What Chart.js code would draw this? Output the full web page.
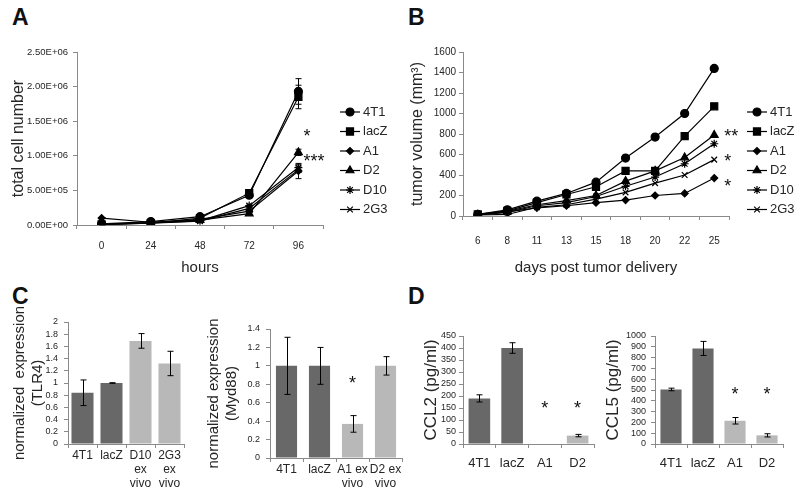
<!DOCTYPE html>
<html>
<head>
<meta charset="utf-8">
<script src="https://cdn.jsdelivr.net/npm/chart.js@4.4.1/dist/chart.umd.min.js"></script>
<style>
  body { margin: 0; background: #fff; width: 800px; height: 500px; position: relative; overflow: hidden; font-family: 'Liberation Sans', Arial, sans-serif; }
  canvas { position: absolute; }
  .letra { position: absolute; font-weight: bold; font-size: 23px; color: #111; }
</style>
</head>
<body>
<div class="letra" style="left:12px;top:4px">A</div>
<div class="letra" style="left:408px;top:4px">B</div>
<div class="letra" style="left:12px;top:283px">C</div>
<div class="letra" style="left:408px;top:283px">D</div>

<canvas id="chartA" width="400" height="260" style="left:0;top:30px"></canvas>
<canvas id="chartB" width="400" height="260" style="left:400px;top:30px"></canvas>
<canvas id="chartC1" width="200" height="200" style="left:0;top:300px"></canvas>
<canvas id="chartC2" width="215" height="200" style="left:195px;top:300px"></canvas>
<canvas id="chartD1" width="200" height="200" style="left:400px;top:300px"></canvas>
<canvas id="chartD2" width="200" height="200" style="left:600px;top:300px"></canvas>

<script>
// Panel A: numero de celulas
var horas = ['0', '24', '48', '72', '96'];
var ticksA = ['0.00E+00', '5.00E+05', '1.00E+06', '1.50E+06', '2.00E+06', '2.50E+06'];
var celulas4T1 = [15000, 50000, 120000, 430000, 1930000];
var celulasLacZ = [10000, 25000, 100000, 460000, 1850000];
var celulasA1 = [100000, 40000, 80000, 200000, 780000];
var celulasD2 = [10000, 35000, 70000, 165000, 1050000];
var celulasD10 = [10000, 30000, 60000, 280000, 830000];
var celulas2G3 = [10000, 25000, 55000, 240000, 800000];
var err4T1 = [5000, 5000, 10000, 30000, 185000];
var errLacZ = [5000, 5000, 10000, 35000, 170000];
var errA1 = [5000, 5000, 10000, 20000, 110000];
var errD2 = [5000, 5000, 10000, 20000, 45000];
var errD10 = [5000, 5000, 10000, 20000, 40000];
var err2G3 = [5000, 5000, 10000, 20000, 40000];

// Panel B: volumen tumoral
var dias = ['6', '8', '11', '13', '15', '18', '20', '22', '25'];
var vol4T1 = [15, 60, 145, 220, 330, 565, 770, 1000, 1440];
var volLacZ = [15, 50, 130, 210, 285, 440, 440, 780, 1070];
var volA1 = [10, 40, 80, 100, 130, 155, 200, 220, 370];
var volD2 = [10, 45, 110, 150, 200, 340, 440, 570, 790];
var volD10 = [10, 35, 100, 130, 190, 290, 380, 510, 705];
var vol2G3 = [10, 15, 85, 110, 165, 230, 320, 400, 550];

// Panel C
var catTLR4 = ['4T1', 'lacZ', ['D10', 'ex', 'vivo'], ['2G3', 'ex', 'vivo']];
var valTLR4 = [0.84, 1.0, 1.69, 1.32];
var errTLR4 = [0.21, 0.005, 0.12, 0.2];
var catMyd88 = ['4T1', 'lacZ', ['A1 ex', 'vivo'], ['D2 ex', 'vivo']];
var valMyd88 = [1.0, 1.0, 0.37, 1.0];
var errMyd88 = [0.31, 0.2, 0.09, 0.1];

// Panel D
var catCCL = ['4T1', 'lacZ', 'A1', 'D2'];
var valCCL2 = [190, 400, 0, 35];
var errCCL2 = [15, 22, 0, 5];
var valCCL5 = [505, 885, 215, 80];
var errCCL5 = [12, 65, 30, 15];

// asteriscos de significancia (indice de categoria, valor en el eje y)
var estrellas = {
  chartA: [{ texto: '*', indice: 4, valor: 1340000 }, { texto: '***', indice: 4, valor: 980000 }],
  chartB: [{ texto: '**', indice: 8, valor: 820 }, { texto: '*', indice: 8, valor: 575 }, { texto: '*', indice: 8, valor: 332 }],
  chartC2: [{ texto: '*', indice: 2, valor: 0.86 }],
  chartD1: [{ texto: '*', indice: 2, valor: 167 }, { texto: '*', indice: 3, valor: 167 }],
  chartD2: [{ texto: '*', indice: 2, valor: 500 }, { texto: '*', indice: 3, valor: 500 }]
};

var oscuro = '#686868';
var claro = '#b8b8b8';
var gris = '#8a8a8a';

Chart.defaults.font.family = "'Liberation Sans', Arial, sans-serif";
Chart.defaults.color = '#262626';
Chart.defaults.animation = false;

var barrasErrorPlugin = {
  id: 'barrasError',
  afterDatasetsDraw: function (chart) {
    var ctx = chart.ctx;
    var ys = chart.scales.y;
    ctx.save();
    ctx.strokeStyle = '#000';
    ctx.lineWidth = 1;
    chart.data.datasets.forEach(function (ds, i) {
      if (!ds.errores) return;
      chart.getDatasetMeta(i).data.forEach(function (el, j) {
        var e = ds.errores[j];
        if (!e) return;
        var x = Math.round(el.x) + 0.5;
        var y1 = ys.getPixelForValue(ds.data[j] - e);
        var y2 = ys.getPixelForValue(ds.data[j] + e);
        ctx.beginPath();
        ctx.moveTo(x, y1); ctx.lineTo(x, y2);
        ctx.moveTo(x - 3, y1); ctx.lineTo(x + 3, y1);
        ctx.moveTo(x - 3, y2); ctx.lineTo(x + 3, y2);
        ctx.stroke();
      });
    });
    ctx.restore();
  }
};

var estrellasPlugin = {
  id: 'estrellas',
  afterDraw: function (chart, args, opts) {
    var lista = estrellas[chart.canvas.id];
    if (!lista) return;
    var ctx = chart.ctx;
    ctx.save();
    ctx.fillStyle = '#111';
    ctx.font = '18px "Liberation Sans", Arial, sans-serif';
    ctx.textAlign = opts.alinear || 'center';
    ctx.textBaseline = 'middle';
    lista.forEach(function (s) {
      var x = chart.scales.x.getPixelForValue(s.indice) + (opts.dx || 0);
      var y = chart.scales.y.getPixelForValue(s.valor) + 5;
      ctx.fillText(s.texto, x, y);
    });
    ctx.restore();
  }
};

var leyendaPlugin = {
  id: 'leyenda',
  afterDraw: function (chart, args, opts) {
    if (!opts || !opts.x) return;
    var ctx = chart.ctx;
    ctx.save();
    chart.data.datasets.forEach(function (ds, i) {
      var y = opts.y + i * opts.dy;
      ctx.strokeStyle = '#000';
      ctx.fillStyle = '#000';
      ctx.lineWidth = 1.2;
      ctx.beginPath();
      ctx.moveTo(opts.x, y); ctx.lineTo(opts.x + 20, y);
      ctx.stroke();
      Chart.helpers.drawPoint(ctx, { pointStyle: ds.pointStyle, radius: ds.pointRadius, borderWidth: 1.2, rotation: 0 }, opts.x + 10, y);
      ctx.font = '13px "Liberation Sans", Arial, sans-serif';
      ctx.textBaseline = 'middle';
      ctx.fillStyle = '#262626';
      ctx.fillText(ds.label, opts.x + 23, y);
    });
    ctx.restore();
  }
};

function numero(v) {
  return String(Math.round(v * 100) / 100);
}

function serie(label, datos, errores, estilo, radio) {
  return {
    label: label, data: datos, errores: errores,
    borderColor: '#000', borderWidth: 1.2, backgroundColor: '#000',
    pointStyle: estilo, pointRadius: radio, pointBorderWidth: 1.2,
    pointBackgroundColor: '#000', pointBorderColor: '#000', tension: 0
  };
}

function ejeX(alto, tituloX, tam, padTicks, padTitulo) {
  return {
    type: 'category', offset: true,
    grid: { offset: true, drawOnChartArea: false, drawTicks: true, tickLength: 4, color: gris },
    border: { color: gris },
    ticks: { font: { size: tam }, padding: padTicks, maxRotation: 0, autoSkip: false },
    title: tituloX ? { display: true, text: tituloX, font: { size: 15 }, padding: { top: 0, bottom: padTitulo } } : { display: false },
    afterFit: function (s) { s.height = alto; }
  };
}

function ejeY(ancho, min, max, paso, tituloY, tamTitulo, padTitulo, padTicks, tamTicks, callback) {
  return {
    min: min, max: max,
    grid: { drawOnChartArea: false, drawTicks: true, tickLength: 4, color: gris },
    border: { color: gris },
    ticks: { stepSize: paso, font: { size: tamTicks }, padding: padTicks, autoSkip: false, callback: callback || numero },
    title: { display: true, text: tituloY, font: { size: tamTitulo }, padding: { top: padTitulo, bottom: 0 } },
    afterFit: function (s) { s.width = ancho; }
  };
}

// Grafico A
new Chart(document.getElementById('chartA').getContext('2d'), {
  type: 'line',
  data: {
    labels: horas,
    datasets: [
      serie('4T1', celulas4T1, err4T1, 'circle', 4),
      serie('lacZ', celulasLacZ, errLacZ, 'rect', 5),
      serie('A1', celulasA1, errA1, 'rectRot', 3.5),
      serie('D2', celulasD2, errD2, 'triangle', 4.5),
      serie('D10', celulasD10, errD10, 'star', 4),
      serie('2G3', celulas2G3, err2G3, 'crossRot', 4)
    ]
  },
  options: {
    responsive: false,
    layout: { padding: { top: 22, right: 77, left: 0, bottom: 0 } },
    plugins: {
      legend: { display: false }, tooltip: { enabled: false },
      leyenda: { x: 340, y: 82, dy: 19.5 },
      estrellas: { dx: 5, alinear: 'left' }
    },
    scales: {
      x: ejeX(65, 'hours', 10, 11, 13),
      y: ejeY(77, 0, 2500000, 500000, 'total cell number', 16, 9, 5, 9.5, function (v, i) { return ticksA[i]; })
    }
  },
  plugins: [barrasErrorPlugin, leyendaPlugin, estrellasPlugin]
});

// Grafico B
new Chart(document.getElementById('chartB').getContext('2d'), {
  type: 'line',
  data: {
    labels: dias,
    datasets: [
      serie('4T1', vol4T1, null, 'circle', 4),
      serie('lacZ', volLacZ, null, 'rect', 5),
      serie('A1', volA1, null, 'rectRot', 3.5),
      serie('D2', volD2, null, 'triangle', 4.5),
      serie('D10', volD10, null, 'star', 4),
      serie('2G3', vol2G3, null, 'crossRot', 4)
    ]
  },
  options: {
    responsive: false,
    layout: { padding: { top: 22, right: 71, left: 0, bottom: 0 } },
    plugins: {
      legend: { display: false }, tooltip: { enabled: false },
      leyenda: { x: 347, y: 82, dy: 19.5 },
      estrellas: { dx: 10, alinear: 'left' }
    },
    scales: {
      x: ejeX(74, 'days post tumor delivery', 10, 15, 13),
      y: ejeY(63, 0, 1600, 200, 'tumor volume (mm³)', 16, 8, 3, 10)
    }
  },
  plugins: [leyendaPlugin, estrellasPlugin]
});

function barras(id, cats, valores, errores, colores, pad, anchoY, altoX, min, max, paso, tituloY, tamTitulo, padTitulo, padTicksX, tamX, porcentaje, padTicksY) {
  return new Chart(document.getElementById(id).getContext('2d'), {
    type: 'bar',
    data: {
      labels: cats,
      datasets: [{ data: valores, errores: errores, backgroundColor: colores, categoryPercentage: 1, barPercentage: porcentaje }]
    },
    options: {
      responsive: false,
      layout: { padding: pad },
      plugins: { legend: { display: false }, tooltip: { enabled: false }, estrellas: { dx: 0 } },
      scales: {
        x: ejeX(altoX, null, tamX, padTicksX, 0),
        y: ejeY(anchoY, min, max, paso, tituloY, tamTitulo, padTitulo, padTicksY, 9)
      }
    },
    plugins: [barrasErrorPlugin, estrellasPlugin]
  });
}

var coloresC = [oscuro, oscuro, claro, claro];

barras('chartC1', catTLR4, valTLR4, errTLR4, coloresC, { top: 22, right: 16, left: 0, bottom: 0 },
  68, 56, 0, 2, 0.2, ['normalized  expression', '(TLR4)'], 15, 11, 0, 12, 0.76, 6);
barras('chartC2', catMyd88, valMyd88, errMyd88, coloresC, { top: 29, right: 8, left: 0, bottom: 0 },
  75, 42, 0, 1.4, 0.2, ['normalized expression', '(Myd88)'], 15, 10, 0, 12, 0.64, 6);
barras('chartD1', catCCL, valCCL2, errCCL2, coloresC, { top: 36, right: 6, left: 0, bottom: 0 },
  63, 56, 0, 450, 50, 'CCL2 (pg/ml)', 17, 21, 8, 13, 0.66, 3);
barras('chartD2', catCCL, valCCL5, errCCL5, coloresC, { top: 36, right: 17, left: 0, bottom: 0 },
  55, 56, 0, 1000, 100, 'CCL5 (pg/ml)', 17, 3, 8, 13, 0.66, 5);
</script>
</body>
</html>
